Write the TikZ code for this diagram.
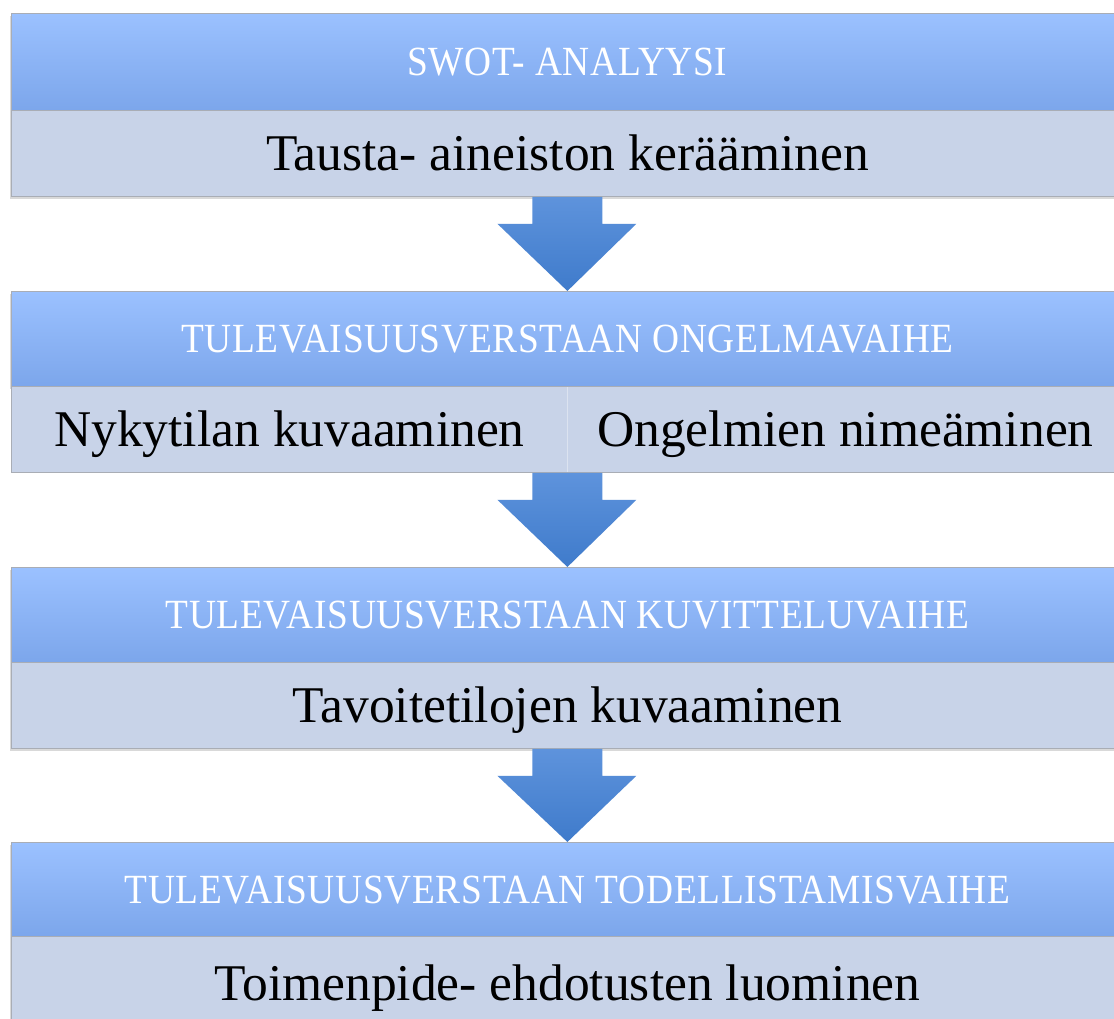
\documentclass[tikz,border=0pt]{standalone}
\usepackage{fontspec}
\setmainfont{Liberation Serif}
\newfontfamily\hdrfont[FakeStretch=0.9,LetterSpace=1.7]{Liberation Serif}
\usetikzlibrary{calc,shadows}
\definecolor{hdrtop}{HTML}{9BC1FF}
\definecolor{hdrbot}{HTML}{7CA6EB}
\definecolor{bodyc}{HTML}{C8D3E8}
\definecolor{edgec}{HTML}{A9ADB5}
\definecolor{divc}{HTML}{DCE3F0}
\definecolor{arrtop}{HTML}{5E93DC}
\definecolor{arrbot}{HTML}{3F7BCB}
\begin{document}
\begin{tikzpicture}[x=1pt,y=-1pt,
  boxshadow/.style={drop shadow={shadow xshift=-1.5pt, shadow yshift=-2.5pt, fill=black, opacity=0.15}},
  hdr/.style={rectangle, draw=edgec, line width=0.8pt, top color=hdrtop, bottom color=hdrbot,
    minimum width=1112pt, anchor=north west, inner sep=0pt, text=white,
    font=\hdrfont\fontsize{41.5}{48}\selectfont, text height=27.5pt, text depth=0pt},
  bodybox/.style={rectangle, draw=edgec, line width=0.8pt, fill=bodyc, minimum width=1112pt,
    minimum height=86pt, anchor=north west, inner sep=0pt, text=black,
    font=\fontsize{51.5}{60}\selectfont, text height=34pt, text depth=0pt},
  halfbox/.style={bodybox, draw=none, minimum width=556pt},
  arrowfill/.style={top color=arrtop, bottom color=arrbot, draw=none}
]
\useasboundingbox (0,0) rectangle (1114,1019);
\fill[white] (0,0) rectangle (1114,1019);

% stage 1
\node[hdr, boxshadow, minimum height=97pt] (h1) at (11,13) {SWOT- ANALYYSI};
\node[bodybox, boxshadow] (b1) at (11,110) {Tausta- aineiston kerääminen};

% stage 2
\node[hdr, boxshadow, minimum height=95pt] (h2) at (11,291) {TULEVAISUUSVERSTAAN ONGELMAVAIHE};
\node[halfbox] (b2l) at (11,386) {Nykytilan kuvaaminen};
\node[halfbox] (b2r) at (567,386) {Ongelmien nimeäminen};
\draw[divc, line width=0.8pt] (b2l.north east) -- (b2l.south east);
\draw[edgec, line width=0.8pt] (b2l.north west) rectangle (b2r.south east);

% stage 3
\node[hdr, boxshadow, minimum height=95pt] (h3) at (11,567) {TULEVAISUUSVERSTAAN KUVITTELUVAIHE};
\node[bodybox, boxshadow] (b3) at (11,662) {Tavoitetilojen kuvaaminen};

% stage 4
\node[hdr, boxshadow, minimum height=94pt] (h4) at (11,842) {TULEVAISUUSVERSTAAN TODELLISTAMISVAIHE};
\node[bodybox, boxshadow, minimum height=95pt] (b4) at (11,936) {Toimenpide- ehdotusten luominen};

% arrows
\path[arrowfill] ($(b1.south)+(-35,0)$) -- ($(b1.south)+(35,0)$) -- ($(b1.south)+(35,27)$)
  -- ($(b1.south)+(69,27)$) -- (h2.north) -- ($(b1.south)+(-70,27)$) -- ($(b1.south)+(-35,27)$) -- cycle;
\coordinate (b2c) at ($(b2l.south)!0.5!(b2r.south)$);
\path[arrowfill] ($(b2c)+(-35,0)$) -- ($(b2c)+(35,0)$) -- ($(b2c)+(35,27)$)
  -- ($(b2c)+(69,27)$) -- (h3.north) -- ($(b2c)+(-70,27)$) -- ($(b2c)+(-35,27)$) -- cycle;
\path[arrowfill] ($(b3.south)+(-35,0)$) -- ($(b3.south)+(35,0)$) -- ($(b3.south)+(35,27)$)
  -- ($(b3.south)+(69,27)$) -- (h4.north) -- ($(b3.south)+(-70,27)$) -- ($(b3.south)+(-35,27)$) -- cycle;
\end{tikzpicture}
\end{document}
